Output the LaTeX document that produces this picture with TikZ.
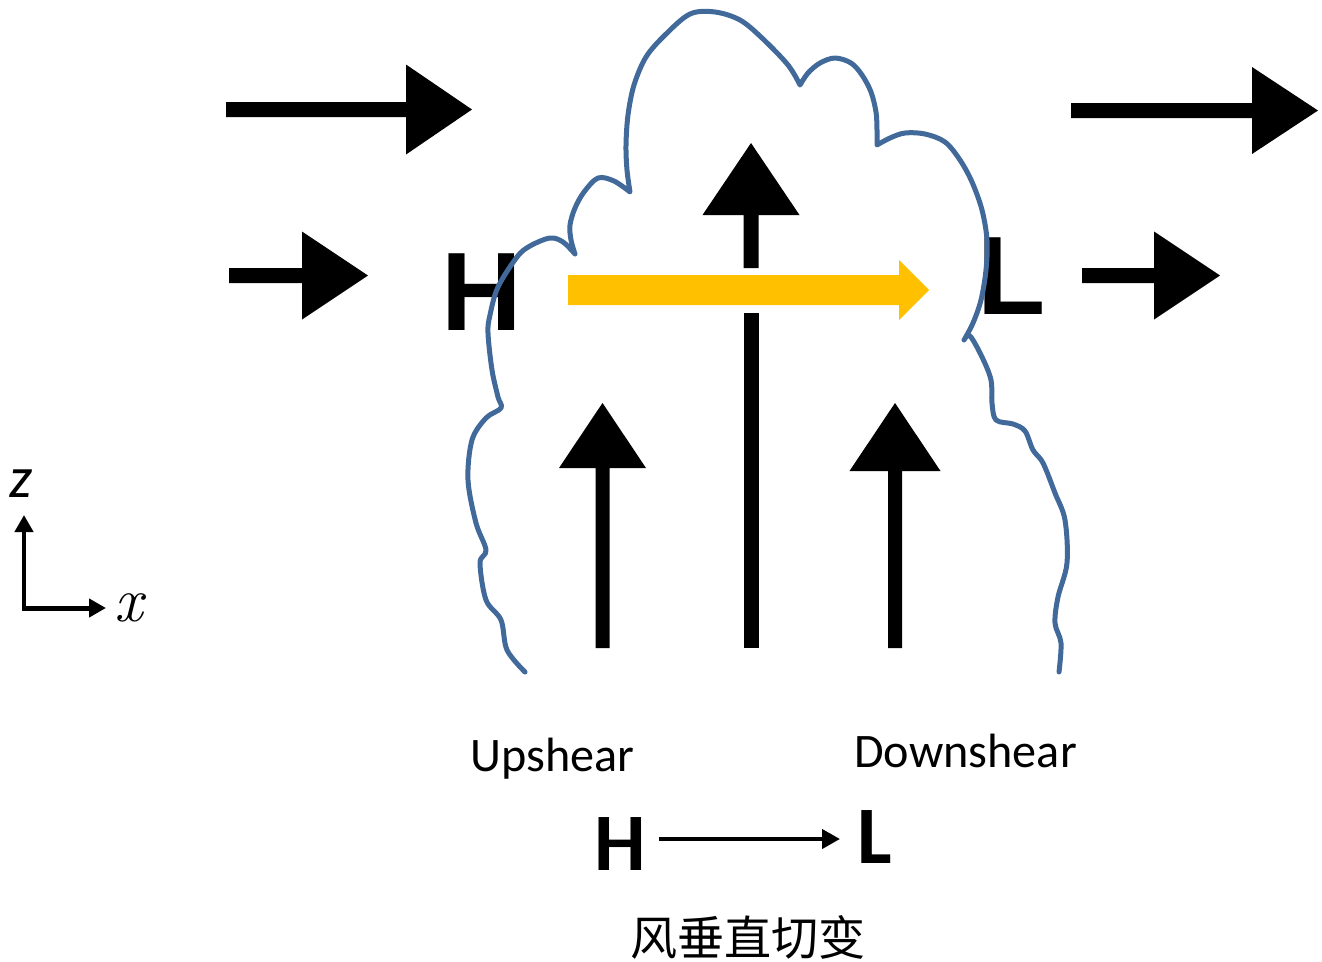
\documentclass[tikz,border=0pt]{standalone}
\usepackage{fontspec}
\usetikzlibrary{arrows.meta,calc}
\newfontfamily\arialfont{Liberation Sans}
\newfontfamily\calfont{Carlito}
\newfontfamily\cjkfont{Noto Sans CJK SC}
\definecolor{cloudblue}{HTML}{416A9A}
\definecolor{shearyellow}{HTML}{FFC000}

% horizontal block arrow: start x, head base x, tip x, centre y, half shaft, half head
\newcommand\hwind[7][black]{%
  \fill[#1] (#2,{#5-#6}) -- (#3,{#5-#6}) -- (#3,{#5-#7}) -- (#4,#5)
    -- (#3,{#5+#7}) -- (#3,{#5+#6}) -- (#2,{#5+#6}) -- cycle;}
% vertical block arrow: centre x, start y, head base y, tip y, half shaft, half head
\newcommand\vwind[6]{%
  \fill[black] ({#1-#5},#2) -- ({#1-#5},#3) -- ({#1-#6},#3) -- (#1,#4)
    -- ({#1+#6},#3) -- ({#1+#5},#3) -- ({#1+#5},#2) -- cycle;}

\tikzset{
  bigletter/.style={inner sep=0pt, font=\arialfont\bfseries\fontsize{63.5}{70}\selectfont},
  smallletter/.style={inner sep=0pt, font=\calfont\bfseries\fontsize{46.5}{50}\selectfont},
  sidelabel/.style={inner sep=0pt, font=\calfont\fontsize{27.4}{30}\selectfont},
  cloudline/.style={draw=cloudblue, line width=0.1cm, line join=round, line cap=round},
  axisline/.style={line width=0.1cm, line join=miter,
    {Triangle[length=0.34cm,width=0.36cm]}-{Triangle[length=0.34cm,width=0.36cm]}},
  sheararrow/.style={line width=0.08cm, -{Triangle[length=0.36cm,width=0.38cm]}},
}

\begin{document}
\begin{tikzpicture}[x=0.02cm, y=-0.02cm]
\useasboundingbox (0,0) rectangle (1322,961);

% environmental wind profile
\hwind{226}{406}{472}{109.5}{7.5}{45}
\hwind{1071}{1252}{1318}{110.5}{7.5}{43.5}
\hwind{229}{302}{368}{275.5}{7.5}{44}
\hwind{1082}{1154}{1220}{275.5}{7.5}{44}

% updrafts
\vwind{602.5}{648}{468}{403}{7}{43.5}
\vwind{895}{648}{471}{403}{7}{45.5}
\vwind{751}{268}{215}{143}{7.5}{48.5}
\fill[black] (743.5,313) rectangle (758.5,648);

% shear vector across the storm
\hwind[shearyellow]{568}{899}{929}{290}{15}{30}

% pressure labels
\node[bigletter] (H) at (481.5,292) {H};
\node[bigletter, anchor=west] (L) at (977,276) {L};

% cloud outline
\draw[cloudline]
  plot[smooth, tension=0.55] coordinates {(525,672) (507,650) (501,620) (486,600) (480,563)
    (486,550) (476,523) (468,480) (472,440) (486,418) (501,408) (498,397) (492,370)
    (488,333) (490,315) (498,287) (517,257) (530,246) (550,238) (563,242) (575,254)}
  -- plot[smooth, tension=0.55] coordinates {(575,254) (571,240) (570,225) (575,208) (584,192)
    (598,178) (614,181) (630,192)}
  -- plot[smooth, tension=0.55] coordinates {(630,192) (627,170) (626,145) (628,115) (634,85)
    (646,57) (665,35) (690,14) (715,12) (740,20) (762,38) (788,65) (800,85)}
  -- plot[smooth, tension=0.55] coordinates {(800,85) (808,73) (820,63) (835,58) (851,63)
    (862,75) (871,92) (876,112) (877,130) (877,145)}
  -- plot[smooth, tension=0.55] coordinates {(877,145) (890,138) (905,133) (925,134) (945,142)
    (960,160) (972,182) (982,210) (987,240) (986,270) (981,300) (973,323) (964,340)}
  -- plot[smooth, tension=0.55] coordinates {(964,340) (970,336) (982,357) (991,380) (992,403)
    (996,420) (1013,424) (1025,431) (1033,450) (1043,463) (1055,493) (1065,520) (1067,563)
    (1058,597) (1055,623) (1061,643) (1059,672)};

% axes
\coordinate (origin) at (24,608);
\coordinate (ztip) at (24,515);
\coordinate (xtip) at (106,608);
\draw[axisline] (ztip) -- (origin) -- (xtip);
\node[inner sep=0pt, anchor=base, font=\calfont\itshape\fontsize{33}{36}\selectfont] (zlab) at (21,497) {z};
\node[inner sep=0pt, anchor=base, font=\rmfamily\itshape\fontsize{36}{40}\selectfont] (xlab) at (129,621) {x};

% side labels
\node[sidelabel, anchor=base west] (up) at (470,771) {Upshear};
\node[sidelabel, anchor=base west] (down) at (854,767) {Downshear};

% shear legend
\node[smallletter] (hb) at (620,843.5) {H};
\node[smallletter, anchor=west] (lb) at (857,836.5) {L};
\coordinate (s0) at ([xshift=0.26cm, yshift=0.09cm]hb.east);
\path (lb.west) ++(-17,0) coordinate (e1);
\coordinate (e0) at (e1 |- s0);
\draw[sheararrow] (s0) -- (e0);
\node[inner sep=0pt, font=\cjkfont\fontsize{26.8}{30}\selectfont] (title) at (748,937) {风垂直切变};
\end{tikzpicture}
\end{document}
